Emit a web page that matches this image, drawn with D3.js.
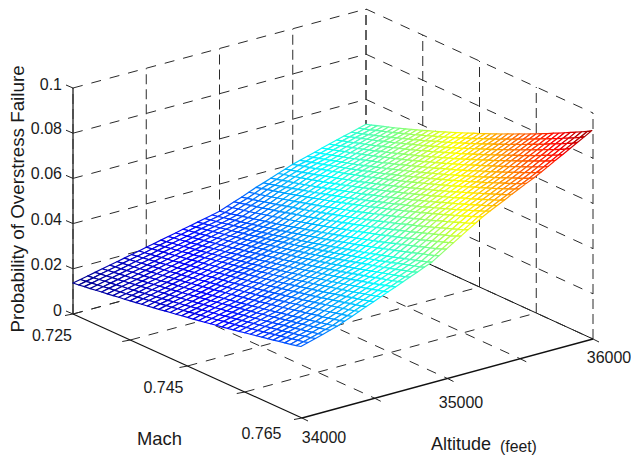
<!DOCTYPE html>
<html><head><meta charset="utf-8"><style>html,body{margin:0;padding:0;background:#fff}svg{display:block}text{font-family:"Liberation Sans",Arial,sans-serif;fill:#1a1a1a}</style></head><body><svg id="c" width="631" height="455"></svg>
<script src="https://cdn.jsdelivr.net/npm/d3@7"></script>
<script>
const machTicks=[0.725,0.735,0.745,0.755,0.765];
const altTicks=[34000,34500,35000,35500,36000];
const probTicks=[0,0.02,0.04,0.06,0.08,0.1];
const machLabels=["0.725","","0.745","","0.765"];
const altLabels=["34000","","35000","","36000"];
const probLabels=["0","0.02","0.04","0.06","0.08","0.1"];
const machGrid=[0.725,0.726,0.727,0.728,0.729,0.730,0.731,0.732,0.733,0.734,0.735,0.736,0.737,0.738,0.739,0.740,0.741,0.742,0.743,0.744,0.745,0.746,0.747,0.748,0.749,0.750,0.751,0.752,0.753,0.754,0.755,0.756,0.757,0.758,0.759,0.760,0.761,0.762,0.763,0.764,0.7648];
const altGrid=[34000,34050,34100,34150,34200,34250,34300,34350,34400,34450,34500,34550,34600,34650,34700,34750,34800,34850,34900,34950,35000,35050,35100,35150,35200,35250,35300,35350,35400,35450,35500,35550,35600,35650,35700,35750,35800,35850,35900,35950,36000];
const probE4=[
[137,140,144,147,151,155,158,162,166,169,173,177,181,185,189,193,198,202,206,211,215,219,224,228,233,238,242,247,252,257,262,267,272,277,282,287,293,298,303,309,314],
[144,147,151,154,158,162,165,169,173,177,181,185,189,193,197,201,205,210,214,218,223,227,232,236,241,246,251,255,260,265,270,275,280,285,291,296,301,307,312,317,323],
[151,154,158,162,165,169,173,176,180,184,188,192,196,200,204,209,213,217,222,226,231,235,240,244,249,254,259,264,269,274,279,284,289,294,299,305,310,315,321,326,332],
[158,162,165,169,172,176,180,184,188,192,196,200,204,208,212,216,221,225,229,234,239,243,248,252,257,262,267,272,277,282,287,292,297,303,308,313,319,324,330,335,341],
[165,169,172,176,180,183,187,191,195,199,203,207,211,216,220,224,229,233,238,242,247,252,256,261,266,271,276,281,286,291,296,301,307,312,317,323,328,334,340,345,351],
[172,176,179,183,187,191,194,198,202,206,211,215,219,223,228,232,236,241,245,250,255,259,264,269,274,279,284,289,294,299,305,310,315,321,326,332,337,343,348,354,360],
[179,183,186,190,194,198,202,206,210,215,219,223,227,232,236,241,245,250,255,260,264,269,274,279,284,289,295,300,305,310,316,321,327,332,338,344,349,355,361,367,373],
[186,190,194,198,202,206,210,214,218,223,227,231,236,240,245,250,254,259,264,269,274,279,284,289,294,300,305,310,316,321,327,333,338,344,350,356,362,368,374,380,386],
[193,197,201,205,209,213,218,222,226,231,235,240,244,249,254,259,264,268,273,279,284,289,294,299,305,310,316,321,327,332,338,344,350,356,362,368,374,380,386,393,399],
[200,204,208,212,217,221,225,230,234,239,243,248,253,258,263,268,273,278,283,288,293,299,304,309,315,321,326,332,338,344,349,355,361,368,374,380,386,393,399,405,412],
[208,212,216,221,225,229,234,238,243,248,252,257,262,267,272,277,282,288,293,298,303,309,314,320,326,331,337,343,349,355,361,367,373,380,386,392,399,405,412,418,425],
[215,219,224,228,232,237,242,246,251,256,261,266,271,276,281,286,291,297,302,308,313,319,324,330,336,342,348,354,360,366,372,379,385,391,398,404,411,418,424,431,438],
[222,226,231,235,240,245,249,254,259,264,269,274,279,284,290,295,300,306,311,317,323,329,334,340,346,352,358,365,371,377,383,390,396,403,410,416,423,430,437,444,451],
[229,234,238,243,247,252,257,262,267,272,277,282,288,293,298,304,309,315,321,327,332,338,344,350,356,363,369,375,382,388,395,401,408,415,422,428,435,442,450,457,464],
[236,241,245,250,255,260,265,270,275,280,285,291,296,302,307,313,319,324,330,336,342,348,354,360,367,373,379,386,393,399,406,413,420,427,433,441,448,455,462,470,477],
[244,249,253,258,263,268,273,279,284,289,294,300,305,311,317,322,328,334,340,346,352,358,365,371,377,384,390,397,404,411,417,424,431,438,446,453,460,467,475,482,490],
[251,256,261,266,271,276,281,286,292,297,303,308,314,320,325,331,337,343,349,356,362,368,375,381,388,394,401,408,415,422,429,436,443,450,457,465,472,480,488,495,503],
[258,263,268,273,278,284,289,294,300,305,311,317,323,329,335,341,347,353,359,366,372,378,385,392,398,405,412,419,426,433,441,448,455,463,470,478,486,493,501,509,517],
[265,270,275,280,286,291,297,302,308,314,319,325,331,337,343,349,356,362,369,375,382,388,395,402,409,416,423,430,437,444,452,459,467,474,482,490,498,506,514,522,530],
[272,277,283,288,294,299,305,311,317,323,329,335,341,348,354,361,367,374,381,387,394,401,408,416,423,430,438,445,453,460,468,476,484,492,500,508,516,525,533,541,550],
[280,286,291,297,303,309,315,321,327,333,339,346,352,359,366,372,379,386,393,400,408,415,422,430,437,445,453,460,468,476,484,493,501,509,518,526,535,543,552,561,570],
[292,298,304,309,315,321,328,334,340,347,353,360,366,373,380,387,394,401,408,416,423,431,438,446,454,462,469,477,486,494,502,510,519,528,536,545,554,563,572,581,590],
[304,310,316,322,328,334,341,347,353,360,367,374,380,387,394,402,409,416,424,431,439,446,454,462,470,478,486,494,503,511,520,528,537,546,555,564,573,582,591,601,610],
[316,322,328,334,341,347,353,360,367,374,380,387,394,402,409,416,424,431,439,446,454,462,470,478,486,495,503,511,520,529,537,546,555,564,573,583,592,601,611,620,630],
[329,335,341,348,354,361,367,374,381,388,395,402,409,416,424,431,439,447,454,462,470,478,487,495,503,512,520,529,538,546,555,564,573,583,592,601,611,621,630,640,650],
[342,348,355,361,368,374,381,388,395,402,409,417,424,431,439,447,454,462,470,478,486,495,503,511,520,529,537,546,555,564,573,582,592,601,611,620,630,640,650,660,670],
[353,359,366,372,379,386,393,400,407,414,421,429,436,444,451,459,467,475,483,491,500,508,516,525,534,542,551,560,569,579,588,597,607,616,626,636,646,656,666,676,686],
[365,371,378,385,391,398,405,412,419,427,434,442,449,457,465,472,480,488,497,505,513,522,530,539,548,557,566,575,584,593,603,612,622,631,641,651,661,671,681,692,702],
[377,384,390,397,404,411,418,425,432,439,447,454,462,470,478,486,494,502,510,519,527,536,544,553,562,571,580,589,599,608,617,627,637,647,656,666,677,687,697,707,718],
[388,395,401,408,415,422,429,437,444,451,459,467,474,482,490,498,506,515,523,532,540,549,558,567,576,585,594,603,613,622,632,642,652,661,672,682,692,702,713,723,734],
[400,407,414,420,427,435,442,449,457,464,472,480,487,495,503,512,520,528,537,545,554,563,572,581,590,599,608,618,627,637,647,657,667,677,687,697,707,718,729,739,750],
[409,416,423,430,437,444,452,459,467,474,482,490,498,506,514,522,531,539,548,557,566,575,584,593,602,612,621,631,640,650,660,670,680,690,701,711,722,732,743,754,765],
[418,425,432,439,446,454,461,469,476,484,492,500,508,517,525,533,542,551,559,568,577,586,596,605,614,624,634,643,653,663,673,683,694,704,715,725,736,747,758,769,780],
[427,434,441,449,456,464,471,479,487,495,503,511,519,528,536,545,554,563,572,581,590,599,609,618,628,637,647,657,667,678,688,698,709,719,730,741,752,763,774,786,797],
[437,444,452,459,467,474,482,490,498,506,514,523,531,540,548,557,566,575,584,594,603,612,622,632,641,651,661,672,682,692,703,713,724,735,746,757,768,779,791,802,814],
[446,453,461,469,476,484,492,500,508,517,525,534,542,551,560,569,578,587,597,606,616,626,635,645,655,666,676,686,697,707,718,729,740,751,762,774,785,797,808,820,832],
[455,463,470,478,486,494,502,510,519,527,536,545,553,562,571,581,590,599,609,619,628,638,648,658,669,679,690,700,711,722,733,744,755,766,778,789,801,813,825,837,849],
[464,472,480,488,496,504,512,521,529,538,547,556,565,574,583,592,602,612,621,631,641,651,662,672,683,693,704,715,726,737,748,759,771,783,794,806,818,830,842,855,867],
[472,480,488,496,504,513,521,530,539,548,557,566,575,584,594,604,613,623,633,643,654,664,675,685,696,707,718,729,740,752,763,775,787,798,810,823,835,847,860,872,885],
[481,489,497,506,514,523,531,540,549,558,567,577,586,596,605,615,625,635,645,656,666,677,688,698,709,720,732,743,755,766,778,790,802,814,826,838,851,863,876,889,902],
[490,498,507,515,524,532,541,550,559,569,578,588,597,607,617,627,637,648,658,669,679,690,701,712,723,735,746,758,769,781,793,805,817,830,842,855,868,881,894,907,920]];
const svg=d3.select("#c");
const u=d3.scaleLinear().domain([0.725,0.765]).range([0,1]);
const v=d3.scaleLinear().domain([34000,36000]).range([0,1]);
const zp=d3.scaleLinear().domain([0,0.1]).range([0,226]);
const L=[73,314],F=[302,418],R=[593,339],B=[366,235];
function P(m,a,z){const s=u(m),t=v(a);
 const x=(1-s)*(1-t)*L[0]+s*(1-t)*F[0]+s*t*R[0]+(1-s)*t*B[0];
 const y=(1-s)*(1-t)*L[1]+s*(1-t)*F[1]+s*t*R[1]+(1-s)*t*B[1];
 return [x,y-zp(z)];}
const line=d3.line();
const zTop=0.1, m0=0.725,m1=0.765,a0=34000,a1=36000;
const dashO="10,9",dashV="10,5";
function draw(pts,dash,w,col){svg.append("path").attr("d",line(pts)).attr("fill","none").attr("stroke",col||"#2a2a2a").attr("stroke-width",w||1).attr("stroke-dasharray",dash||null);}
altTicks.forEach(a=>{draw([P(m0,a,0),P(m0,a,zTop)],dashV);if(a>a0)draw([P(m0,a,0),P(m1,a,0)],a<a1?dashO:null,1,a<a1?null:"#111");});
machTicks.forEach(m=>{draw([P(m,a1,0),P(m,a1,zTop)],dashV);if(m>m0&&m<m1)draw([P(m,a0,0),P(m,a1,0)],dashO);});
draw([P(m0,a0,0),P(m0,a1,0)],dashO);
probTicks.forEach(z=>{draw([P(m0,a0,z),P(m0,a1,z)],dashO);draw([P(m0,a1,z),P(m1,a1,z)],dashO);});
draw([P(m0,a0,0),P(m0,a0,zTop)],null,1.4,"#333");
draw([P(m0,a0,0),P(m1,a0,0)],null,1.2,"#111");
draw([P(m1,a0,0),P(m1,a1,0)],null,1.4,"#111");
const zMin=d3.min(probE4,r=>d3.min(r)),zMax=d3.max(probE4,r=>d3.max(r));
const jetF=[0,1/8,3/8,5/8,7/8,1];
const jet=d3.scaleLinear().domain(jetF.map(f=>zMin+f*(zMax-zMin))).range(["#00008f","#0000ff","#00ffff","#ffff00","#ff0000","#800000"]);
const cells=[];
for(let i=0;i<altGrid.length-1;i++)for(let j=0;j<machGrid.length-1;j++)cells.push({i,j});
cells.sort((a,b)=>(a.j-a.i)-(b.j-b.i));
svg.append("g").selectAll("path").data(cells).join("path")
 .attr("d",c=>{const p=(i,j)=>P(machGrid[j],altGrid[i],probE4[i][j]/1e4);return line([p(c.i,c.j),p(c.i,c.j+1),p(c.i+1,c.j+1),p(c.i+1,c.j)])+"Z";})
 .attr("fill","#fff").attr("stroke",c=>jet(probE4[c.i][c.j])).attr("stroke-width",1.2).attr("stroke-linejoin","round");
probTicks.forEach(z=>{const p=P(m0,a0,z);draw([[p[0]-7,p[1]-3],p],null,1,"#222");});
machTicks.forEach(m=>{const p=P(m,a0,0);draw([[p[0]-8,p[1]+1.5],p],null,1,"#222");});
altTicks.forEach(a=>{const p=P(m1,a,0);draw([[p[0]+6,p[1]+3],p],null,1,"#222");});
function T(s,x,y,fs,anchor,rot){const t=svg.append("text").text(s).attr("font-size",fs).attr("text-anchor",anchor||"start").attr("dominant-baseline","central");
 if(rot)t.attr("transform",`translate(${x},${y}) rotate(${rot})`);else t.attr("x",x).attr("y",y);return t;}
const zLabelY=[310,264,219,173,128,84];
probLabels.forEach((s,i)=>T(s,62,zLabelY[i],16,"end"));
const machPos=[[52,335],null,[163.5,387],null,[261.5,433]];
machLabels.forEach((s,i)=>{if(s)T(s,machPos[i][0],machPos[i][1],16,"middle");});
const altPos=[[324,437],null,[461,402],null,[609,357]];
altLabels.forEach((s,i)=>{if(s)T(s,altPos[i][0],altPos[i][1],16,"middle");});
T("Mach",159.5,438,18.4,"middle");
T("Altitude",431,444,18);
T("(feet)",500,446,15.8);
T("Probability of Overstress Failure",17,199,18.8,"middle",-90);
</script></body></html>
